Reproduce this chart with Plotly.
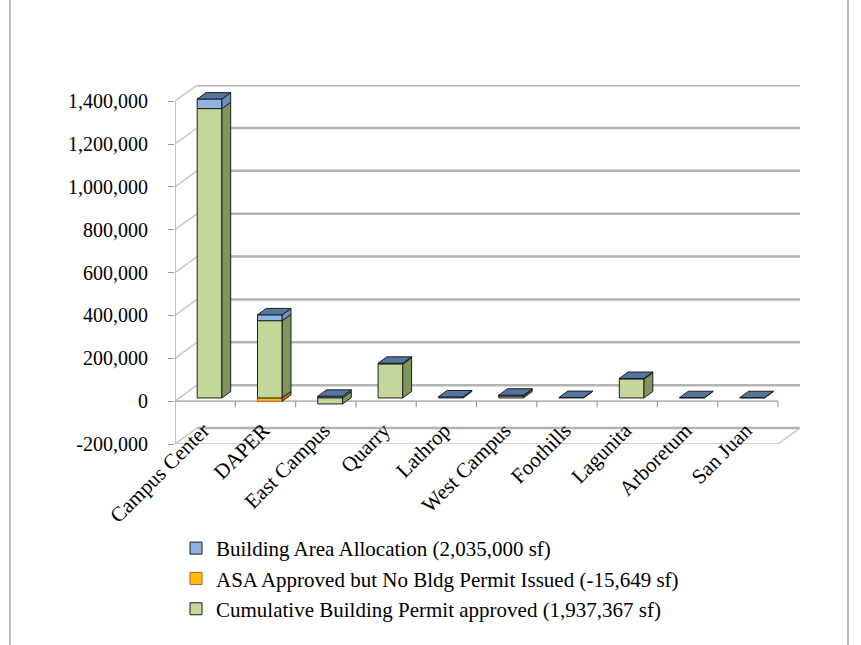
import plotly.graph_objects as go

# ---- data (square feet by campus area) ----
categories = ["Campus Center", "DAPER", "East Campus", "Quarry", "Lathrop",
              "West Campus", "Foothills", "Lagunita", "Arboretum", "San Juan"]
permit_sf = [1350000, 360000, -28000, 158000, 0, 8000, 0, 88000, 0, 0]
asa_sf = [0, -15649, 0, 0, 0, 0, 0, 0, 0, 0]
allocation_sf = [45000, 28000, 8000, 4000, 5000, 5000, 2000, 3000, 1500, 1500]

series_names = ["Building Area Allocation (2,035,000 sf)",
                "ASA Approved but No Bldg Permit Issued (-15,649 sf)",
                "Cumulative Building Permit approved (1,937,367 sf)"]
y_ticks = [-200000, 0, 200000, 400000, 600000, 800000, 1000000, 1200000, 1400000]
y_tick_text = ["-200,000", "0", "200,000", "400,000", "600,000", "800,000",
               "1,000,000", "1,200,000", "1,400,000"]

# ---- pseudo-3D geometry ----
W, H = 861, 645
PX_L, PX_R, PX_T, PX_B = 175, 800, 85, 444     # plot area in pixels
CAT_PX = 60.3                                   # width of one category on the front plane
UNITS_PER_PX = 1400000 / 300.0                  # value units per vertical pixel
DEPTH_PX = (22, 16)                             # wall depth (right, up)

X0 = -0.5
X1 = X0 + (PX_R - PX_L) / CAT_PX
Y0 = -200000
Y1 = Y0 + (PX_B - PX_T) * UNITS_PER_PX
DX = DEPTH_PX[0] / CAT_PX
DY = DEPTH_PX[1] * UNITS_PER_PX
N = len(categories)
X_END = X0 + N                                  # right end of the front plane

BAR_W = 0.41
BAR_FRONT = 0.2                                 # depth fraction of the bar front face
BAR_DEPTH = 0.4                                 # depth fraction occupied by a bar
fdx, fdy = BAR_FRONT * DX, BAR_FRONT * DY
bdx, bdy = BAR_DEPTH * DX, BAR_DEPTH * DY

GRID = "#b4b4b4"
THIN = "#c8c8c8"
EDGE = "#1e1e1e"

styles = {
    "allocation": dict(front="#8DB4E2", side="#6C8FBC", top="#54759F"),
    "asa": dict(front="#FFC000", side="#E46C0A", top="#F29B1E"),
    "permit": dict(front="#C4D79B", side="#7E955C", top="#A7BD78"),
}

# ---- stacking (positives upward, negatives downward from zero) ----
stack_order = [("permit", permit_sf), ("asa", asa_sf), ("allocation", allocation_sf)]
segments = {k: [None] * N for k, _ in stack_order}
top_seg = [None] * N
for i in range(N):
    pos, neg = 0.0, 0.0
    for key, vals in stack_order:
        v = vals[i]
        if v > 0:
            segments[key][i] = (pos, pos + v)
            pos += v
            top_seg[i] = (key, pos)
        elif v < 0:
            segments[key][i] = (neg + v, neg)
            neg += v
    if top_seg[i] is None:
        top_seg[i] = (stack_order[0][0], 0.0)

fig = go.Figure()

trace_keys = [("allocation", allocation_sf, series_names[0]),
              ("asa", asa_sf, series_names[1]),
              ("permit", permit_sf, series_names[2])]
for key, vals, name in trace_keys:
    xs, ys, bases = [], [], []
    for i in range(N):
        seg = segments[key][i]
        if seg is None:
            continue
        xs.append(i + fdx)
        ys.append(seg[1] - seg[0])
        bases.append(seg[0] + fdy)
    line_col = "#C0504D" if key == "asa" else EDGE
    fig.add_trace(go.Bar(
        x=xs, y=ys, base=bases, width=BAR_W, name=name,
        marker=dict(color=styles[key]["front"], line=dict(color=line_col, width=1)),
        legendgroup=key, hoverinfo="skip",
    ))

shapes = []

# back wall gridlines and left wall diagonals
for v in y_ticks:
    shapes.append(dict(type="line", xref="x", yref="y", layer="below",
                       x0=X0 + DX, y0=v + DY, x1=X1, y1=v + DY,
                       line=dict(color=GRID, width=2.5)))
    shapes.append(dict(type="line", xref="x", yref="y", layer="below",
                       x0=X0, y0=v, x1=X0 + DX, y1=v + DY,
                       line=dict(color=THIN, width=1.5)))
# floor front edge and right edge
shapes.append(dict(type="line", xref="x", yref="y", layer="below",
                   x0=X0, y0=Y0, x1=X_END, y1=Y0, line=dict(color=THIN, width=1.5)))
shapes.append(dict(type="line", xref="x", yref="y", layer="below",
                   x0=X_END, y0=Y0, x1=X_END + DX, y1=Y0 + DY,
                   line=dict(color=THIN, width=1.5)))
# front vertical axis
shapes.append(dict(type="line", xref="x", yref="y", layer="below",
                   x0=X0, y0=Y0, x1=X0, y1=y_ticks[-1],
                   line=dict(color="#9a9a9a", width=1.2)))
# category axis at zero with boundary ticks
shapes.append(dict(type="line", xref="x", yref="y", layer="below",
                   x0=X0, y0=0, x1=X_END, y1=0, line=dict(color="#9a9a9a", width=1.2)))
for k in range(1, N + 1):
    shapes.append(dict(type="line", xref="x", yref="y", layer="below",
                       x0=X0 + k, y0=0, x1=X0 + k, y1=-6 * UNITS_PER_PX,
                       line=dict(color="#9a9a9a", width=1.2)))


def face(pts, fill):
    path = "M " + " L ".join(f"{x},{y}" for x, y in pts) + " Z"
    return dict(type="path", xref="x", yref="y", path=path, fillcolor=fill,
                line=dict(color=EDGE, width=1), layer="above")


# side faces of each segment, then the top face of each column
for i in range(N):
    xr = i + fdx + BAR_W / 2
    xl = i + fdx - BAR_W / 2
    for key, _ in stack_order:
        seg = segments[key][i]
        if seg is None:
            continue
        lo, hi = seg[0] + fdy, seg[1] + fdy
        shapes.append(face([(xr, lo), (xr, hi), (xr + bdx, hi + bdy), (xr + bdx, lo + bdy)],
                           styles[key]["side"]))
    key, top = top_seg[i]
    t = top + fdy
    shapes.append(face([(xl, t), (xr, t), (xr + bdx, t + bdy), (xl + bdx, t + bdy)],
                       styles[key]["top"]))

# chart-area border (left and right edges)
for px in (10, 848):
    fx = (px - PX_L) / (PX_R - PX_L)
    shapes.append(dict(type="line", xref="paper", yref="paper", layer="below",
                       x0=fx, x1=fx, y0=(PX_B - H) / (PX_B - PX_T), y1=PX_B / (PX_B - PX_T),
                       line=dict(color="#8c8c8c", width=1.2)))

SERIF = "Liberation Serif, Times New Roman, serif"

fig.update_layout(
    width=W, height=H,
    margin=dict(l=PX_L, r=W - PX_R, t=PX_T, b=H - PX_B),
    paper_bgcolor="white", plot_bgcolor="rgba(0,0,0,0)",
    barmode="overlay",
    shapes=shapes,
    showlegend=True,
    legend=dict(
        x=(176 - PX_L) / (PX_R - PX_L), xanchor="left",
        y=(PX_B - 528) / (PX_B - PX_T), yanchor="top",
        font=dict(family=SERIF, size=21, color="black"),
        traceorder="normal", tracegroupgap=6,
        bgcolor="rgba(0,0,0,0)",
    ),
    xaxis=dict(range=[X0, X1], showgrid=False, zeroline=False, showline=False,
               tickvals=list(range(N)), ticktext=categories, tickangle=-45,
               ticks="", tickfont=dict(family=SERIF, size=21, color="black"),
               ticklabelstandoff=-31, ticklabelshift=-2),
    yaxis=dict(range=[Y0, Y1], showgrid=False, zeroline=False, showline=False,
               tickvals=y_ticks, ticktext=y_tick_text, ticks="outside", ticklen=6,
               tickcolor="#9a9a9a", tickfont=dict(family=SERIF, size=20, color="black"),
               ticklabelstandoff=16),
)

fig.write_html("out.html")
